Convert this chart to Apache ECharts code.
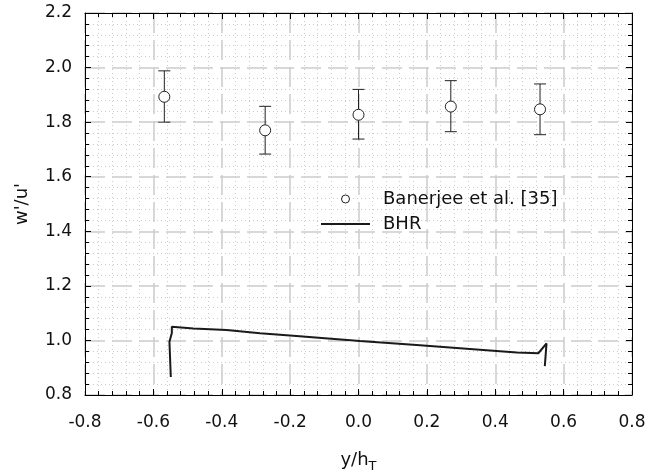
<!DOCTYPE html>
<html>
<head>
<meta charset="utf-8">
<script src="https://cdn.jsdelivr.net/npm/echarts@6/dist/echarts.min.js"></script>
<style>html,body{margin:0;padding:0;background:#fff}#c{width:647px;height:476px}</style>
</head>
<body>
<div id="c"></div>
<script>
// Data
var expX = [-0.568, -0.273, 0.0, 0.27, 0.531];
var expY = [1.893, 1.770, 1.827, 1.857, 1.847];
var expLow = [1.800, 1.683, 1.738, 1.765, 1.754];
var expHigh = [1.988, 1.858, 1.920, 1.952, 1.940];
var bhrX = [-0.549, -0.553, -0.546, -0.546, -0.483, -0.386, -0.288, -0.191, 0.004, 0.170, 0.365, 0.463, 0.526, 0.550, 0.545];
var bhrY = [0.866, 0.995, 1.027, 1.050, 1.044, 1.038, 1.026, 1.017, 0.998, 0.983, 0.965, 0.956, 0.953, 0.989, 0.906];
var xTicks = {min: -0.8, max: 0.8, interval: 0.2};
var yTicks = {min: 0.8, max: 2.2, interval: 0.2};

var FONT = '"DejaVu Sans", "Liberation Sans", Arial, sans-serif';
var expData = expX.map(function (x, i) { return [x, expY[i]]; });
var errData = expX.map(function (x, i) { return [x, expLow[i], expHigh[i]]; });
var bhrData = bhrX.map(function (x, i) { return [x, bhrY[i]]; });

function mainAxisCommon(showLabel, margin) {
  return {
    axisLine: {show: true, onZero: false, lineStyle: {color: '#000', width: 1}},
    axisTick: {show: true, inside: true, length: 6, lineStyle: {color: '#000'}},
    minorTick: {show: true, splitNumber: 5, length: 4, lineStyle: {color: '#000'}},
    axisLabel: {show: showLabel, fontSize: 17, fontFamily: FONT, color: '#111', margin: margin,
      formatter: function (v) { return v.toFixed(1); }},
  };
}

var majorGrid = {show: true, lineStyle: {color: '#cbcbcb', width: 1.5, type: [20, 7]}};
var minorGrid = {show: true, lineStyle: {color: '#cacaca', width: 1, type: [1, 3]}};

var xMain = Object.assign(mainAxisCommon(true, 19), {
  type: 'value', position: 'bottom', min: xTicks.min, max: xTicks.max, interval: xTicks.interval,
  name: '{a|y/h}{b|T}', nameLocation: 'middle', nameGap: 53,
  nameTextStyle: {rich: {
    a: {fontSize: 18, fontFamily: FONT, color: '#111'},
    b: {fontSize: 13, fontFamily: FONT, color: '#111', padding: [12, 0, 0, 0]}
  }},
  splitLine: majorGrid,
  minorSplitLine: minorGrid
});
var xTop = Object.assign(mainAxisCommon(false, 8), {
  type: 'value', position: 'top', min: xTicks.min, max: xTicks.max, interval: xTicks.interval,
  splitLine: {show: false}
});
var yMain = Object.assign(mainAxisCommon(true, 13), {
  type: 'value', position: 'left', min: yTicks.min, max: yTicks.max, interval: yTicks.interval,
  name: "w'/u'", nameLocation: 'middle', nameGap: 54,
  nameTextStyle: {fontSize: 18, fontFamily: FONT, color: '#111'},
  splitLine: majorGrid,
  minorSplitLine: minorGrid
});
var yRight = Object.assign(mainAxisCommon(false, 8), {
  type: 'value', position: 'right', min: yTicks.min, max: yTicks.max, interval: yTicks.interval,
  splitLine: {show: false}
});

var chart = echarts.init(document.getElementById('c'), null, {renderer: 'canvas'});
chart.setOption({
  animation: false,
  backgroundColor: '#fff',
  grid: {left: 85, right: 15, top: 13, bottom: 81, containLabel: false, outerBoundsMode: 'none'},
  xAxis: [xMain, xTop],
  yAxis: [yMain, yRight],
  legend: {
    orient: 'vertical', left: 321, top: 190, padding: 0, itemWidth: 49, itemHeight: 8, itemGap: 7,
    textStyle: {fontSize: 18, fontFamily: FONT, color: '#111', lineHeight: 18, padding: [0, 0, 0, 8]},
    data: [
      {name: 'Banerjee et al. [35]', icon: 'circle', itemStyle: {color: '#fff', borderColor: '#222', borderWidth: 1}},
      {name: 'BHR', icon: 'path://M0,0L49,0L49,2L0,2Z', itemStyle: {color: '#1a1a1a', borderWidth: 0}}
    ]
  },
  series: [
    {
      type: 'custom', name: 'err', xAxisIndex: 0, yAxisIndex: 0,
      data: errData, z: 3,
      renderItem: function (params, api) {
        var x = api.value(0);
        var lo = api.coord([x, api.value(1)]);
        var hi = api.coord([x, api.value(2)]);
        var hw = 6;
        var st = {stroke: '#222', lineWidth: 1, fill: null};
        return {type: 'group', children: [
          {type: 'line', shape: {x1: lo[0], y1: lo[1], x2: hi[0], y2: hi[1]}, style: st},
          {type: 'line', shape: {x1: lo[0] - hw, y1: lo[1], x2: lo[0] + hw, y2: lo[1]}, style: st},
          {type: 'line', shape: {x1: hi[0] - hw, y1: hi[1], x2: hi[0] + hw, y2: hi[1]}, style: st}
        ]};
      }
    },
    {
      type: 'scatter', name: 'Banerjee et al. [35]', data: expData, z: 5,
      symbol: 'circle', symbolSize: 11,
      itemStyle: {color: '#fff', borderColor: '#222', borderWidth: 1, opacity: 1}
    },
    {
      type: 'line', name: 'BHR', data: bhrData, z: 4,
      symbol: 'none', showSymbol: false,
      lineStyle: {color: '#1a1a1a', width: 2},
      itemStyle: {color: '#1a1a1a'}
    }
  ]
});
</script>
</body>
</html>
